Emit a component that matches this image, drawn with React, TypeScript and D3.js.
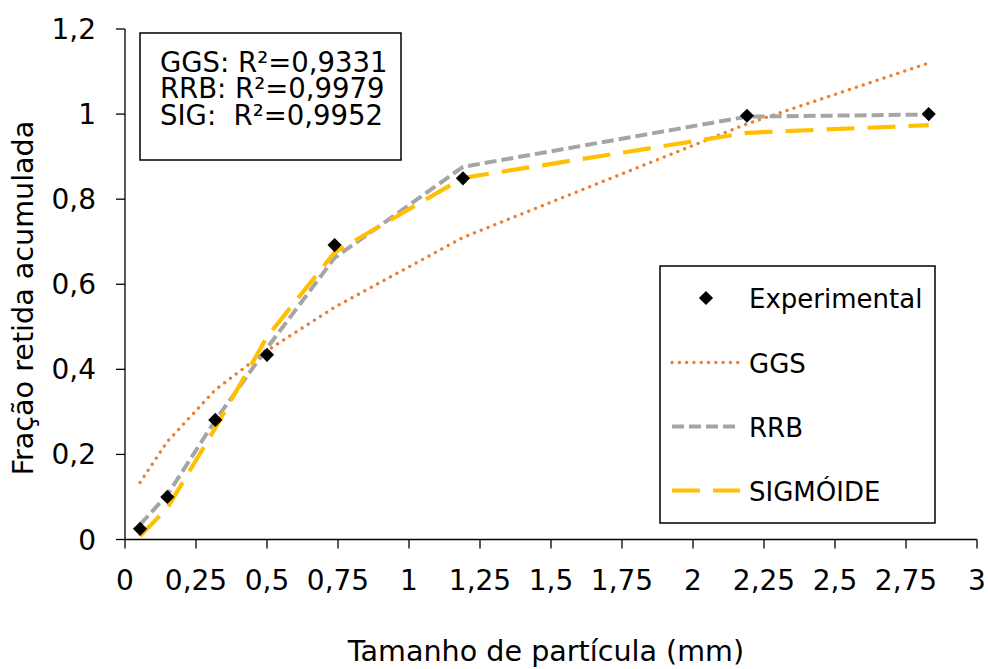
import React from "react";
import * as d3 from "d3";

// Particle size (mm) at each sieve
const sizes = [0.053, 0.149, 0.318, 0.5, 0.738, 1.19, 2.19, 2.83];
// Experimental cumulative retained fraction
const experimental = [0.025, 0.1, 0.281, 0.434, 0.692, 0.849, 0.996, 1.0];
// Model fits at the same sizes
const ggs = [0.134, 0.23, 0.352, 0.444, 0.546, 0.71, 0.977, 1.12];
const rrb = [0.035, 0.105, 0.28, 0.45, 0.662, 0.876, 0.994, 0.999];
const sig = [0.008, 0.074, 0.262, 0.476, 0.675, 0.85, 0.956, 0.974];

const xTicks = [0, 0.25, 0.5, 0.75, 1, 1.25, 1.5, 1.75, 2, 2.25, 2.5, 2.75, 3];
const yTicks = [0, 0.2, 0.4, 0.6, 0.8, 1, 1.2];
const r2Lines = ["GGS: R²=0,9331", "RRB: R²=0,9979", "SIG:  R²=0,9952"];

const W = 988;
const H = 669;
const FONT = "'DejaVu Sans', Verdana, sans-serif";

const x = d3.scaleLinear().domain([0, 3]).range([125, 977]);
const y = d3.scaleLinear().domain([0, 1.2]).range([539.5, 29]);

const fmt = (v: number) => String(v).replace(".", ",");

const series = [
  { name: "GGS", values: ggs, color: "#ED7D31", width: 3.3, dash: "0.1 7.2", cap: "round" as const },
  { name: "RRB", values: rrb, color: "#A5A5A5", width: 4, dash: "12 5", cap: "butt" as const },
  { name: "SIGMÓIDE", values: sig, color: "#FFC000", width: 4.2, dash: "28 13", cap: "butt" as const },
];

export default function App() {
  const line = d3
    .line<number>()
    .x((_, i) => x(sizes[i]))
    .y((d) => y(d));

  const diamond = d3.symbol().type(d3.symbolDiamond2).size(128)()!;

  const legX = 660;
  const legY = 266;
  const rowY = [298, 362.5, 426.5, 490.5];

  return (
    <svg width={W} height={H} style={{ position: "absolute", left: 0, top: 0, background: "#fff" }}>
      <rect width={W} height={H} fill="#fff" />
      {/* axes */}
      <line x1={x(0)} x2={x(3)} y1={y(0)} y2={y(0)} stroke="#000" strokeWidth={1.3} />
      <line x1={x(0)} x2={x(0)} y1={y(0)} y2={y(1.2)} stroke="#000" strokeWidth={1.3} />
      {xTicks.map((t) => (
        <g key={"x" + t}>
          <line x1={x(t)} x2={x(t)} y1={y(0)} y2={y(0) + 9} stroke="#000" strokeWidth={1.3} />
          <text x={x(t)} y={589.5} textAnchor="middle" fontFamily={FONT} fontSize={28} fill="#000">
            {fmt(t)}
          </text>
        </g>
      ))}
      {yTicks.map((t) => (
        <g key={"y" + t}>
          <line x1={x(0) - 9} x2={x(0)} y1={y(t)} y2={y(t)} stroke="#000" strokeWidth={1.3} />
          <text x={96} y={y(t) + 10} textAnchor="end" fontFamily={FONT} fontSize={28} fill="#000">
            {fmt(t)}
          </text>
        </g>
      ))}
      <text x={546} y={661} textAnchor="middle" fontFamily={FONT} fontSize={28.6} fill="#000">
        Tamanho de partícula (mm)
      </text>
      <text
        transform={`translate(33,298) rotate(-90)`}
        textAnchor="middle"
        fontFamily={FONT}
        fontSize={28.6}
        fill="#000"
      >
        Fração retida acumulada
      </text>

      {/* model curves */}
      {series.map((s) => (
        <path
          key={s.name}
          d={line(s.values)!}
          fill="none"
          stroke={s.color}
          strokeWidth={s.width}
          strokeDasharray={s.dash}
          strokeLinecap={s.cap}
        />
      ))}

      {/* experimental points */}
      {experimental.map((v, i) => (
        <path key={i} d={diamond} transform={`translate(${x(sizes[i])},${y(v)})`} fill="#000" />
      ))}

      {/* R² box */}
      <rect x={140} y={33} width={261} height={127} fill="#fff" stroke="#000" strokeWidth={1.5} />
      <text fontFamily={FONT} fontSize={27.5} fill="#000" style={{ whiteSpace: "pre" }}>
        {r2Lines.map((t, i) => (
          <tspan key={t} x={160} y={71.5 + i * 26.7}>
            {t}
          </tspan>
        ))}
      </text>

      {/* legend */}
      <rect x={legX} y={legY} width={275} height={257} fill="#fff" stroke="#000" strokeWidth={1.5} />
      <path d={diamond} transform={`translate(706,${rowY[0]})`} fill="#000" />
      <text x={749} y={rowY[0] + 10} fontFamily={FONT} fontSize={26} fill="#000">
        Experimental
      </text>
      {series.map((s, i) => (
        <g key={"leg" + s.name}>
          <line
            x1={672}
            x2={740}
            y1={rowY[i + 1]}
            y2={rowY[i + 1]}
            stroke={s.color}
            strokeWidth={s.width}
            strokeDasharray={s.dash}
            strokeLinecap={s.cap}
          />
          <text x={749} y={rowY[i + 1] + 10} fontFamily={FONT} fontSize={26} fill="#000">
            {s.name}
          </text>
        </g>
      ))}
    </svg>
  );
}
